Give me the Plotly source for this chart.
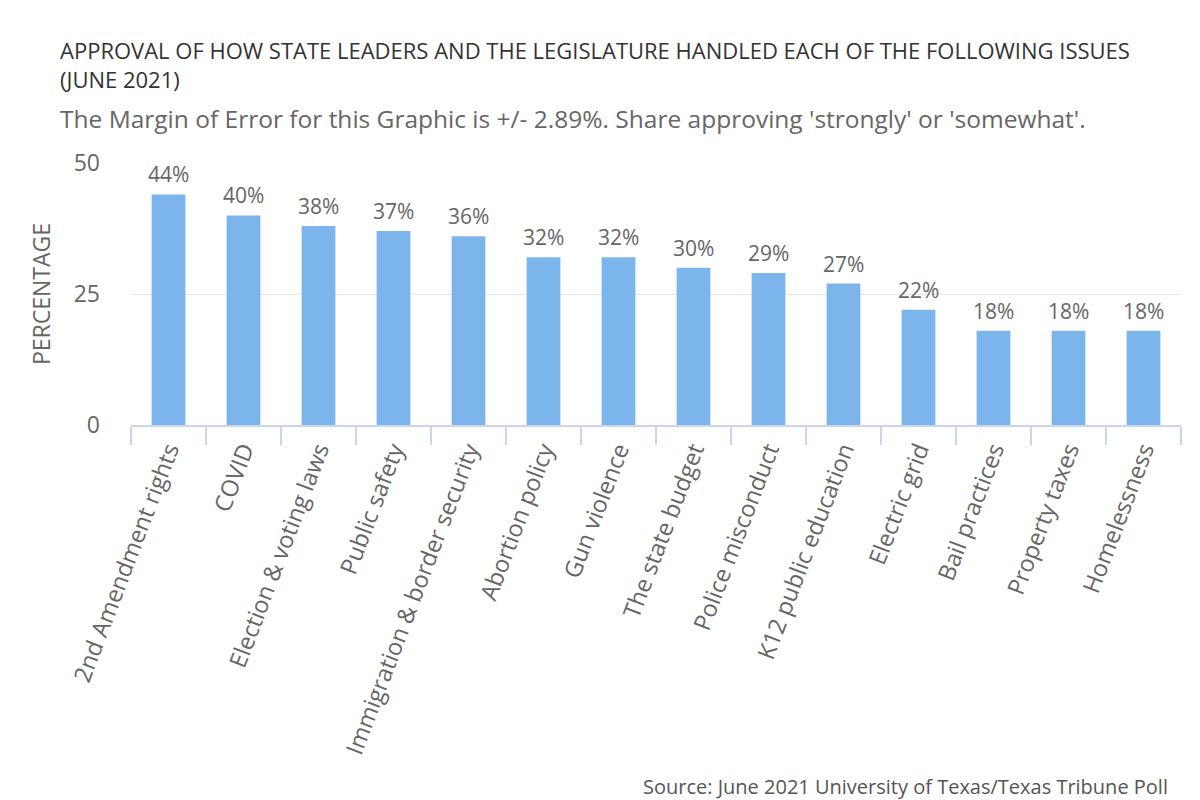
import plotly.graph_objects as go

categories = ["2nd Amendment rights", "COVID", "Election & voting laws", "Public safety",
              "Immigration & border security", "Abortion policy", "Gun violence",
              "The state budget", "Police misconduct", "K12 public education",
              "Electric grid", "Bail practices", "Property taxes", "Homelessness"]
values = [44, 40, 38, 37, 36, 32, 32, 30, 29, 27, 22, 18, 18, 18]
y_ticks = [0, 25, 50]

# page has an 8px body margin; figure is sized so that it fills the 1200x800 window
OFF = 8
W, H = 1200 - OFF, 800 - OFF
PL, PR, PT, PB = 131, 1181, 163, 425          # plot area in page pixels
L, T = PL - OFF, PT - OFF
R, B = W - (PR - OFF), H - (PB - OFF)
PW, PH = PR - PL, PB - PT

def px(x):
    return (x - PL) / PW

def py(y):
    return (PB - y) / PH

FONT = "Open Sans"

fig = go.Figure()
fig.add_trace(go.Bar(x=categories, y=values, marker=dict(color="#7cb5ec", line=dict(width=0)),
                     width=0.45, hoverinfo="x+y"))

annotations = []
for c, v in zip(categories, values):
    annotations.append(dict(x=c, y=v, xref="x", yref="y", text=f"{v}%", showarrow=False,
                            yanchor="bottom", yshift=4,
                            font=dict(family=FONT, size=21, color="#666666")))

annotations.append(dict(x=px(58), y=py(33), xref="paper", yref="paper", xanchor="left", yanchor="top",
                        align="left", showarrow=False,
                        text="APPROVAL OF HOW STATE LEADERS AND THE LEGISLATURE HANDLED EACH OF THE FOLLOWING ISSUES<br>(JUNE 2021)",
                        font=dict(family=FONT, size=22, color="#333333")))
annotations.append(dict(x=px(58), y=py(119), xref="paper", yref="paper", xanchor="left", yanchor="middle",
                        align="left", showarrow=False,
                        text="The Margin of Error for this Graphic is +/- 2.89%. Share approving 'strongly' or 'somewhat'.",
                        font=dict(family=FONT, size=24.5, color="#666666")))
annotations.append(dict(x=px(1170), y=py(802), xref="paper", yref="paper", xanchor="right", yanchor="bottom",
                        showarrow=False,
                        text="Source: June 2021 University of Texas/Texas Tribune Poll",
                        font=dict(family=FONT, size=20, color="#555555")))

fig.update_layout(
    width=W, height=H,
    margin=dict(l=L, r=R, t=T, b=B, autoexpand=False),
    paper_bgcolor="white", plot_bgcolor="white",
    showlegend=False, bargap=0.55,
    font=dict(family=FONT, color="#666666"),
    annotations=annotations,
    xaxis=dict(type="category", showline=True, linecolor="#ccd6eb", linewidth=2,
               ticks="outside", tickson="boundaries", ticklen=18, tickcolor="#ccd6eb", tickwidth=2,
               tickangle=-69, tickfont=dict(family=FONT, size=23.5, color="#666666"),
               showgrid=False, fixedrange=True),
    yaxis=dict(range=[0, 50], tickvals=y_ticks, ticktext=[str(t) for t in y_ticks],
               showgrid=True, gridcolor="#e6e6e6", gridwidth=1, zeroline=False,
               showline=False, ticks="", ticklabelstandoff=30,
               tickfont=dict(family=FONT, size=23, color="#666666"),
               title=dict(text="PERCENTAGE", standoff=16, font=dict(family=FONT, size=23, color="#666666")),
               fixedrange=True),
)

fig.write_html("out.html")
